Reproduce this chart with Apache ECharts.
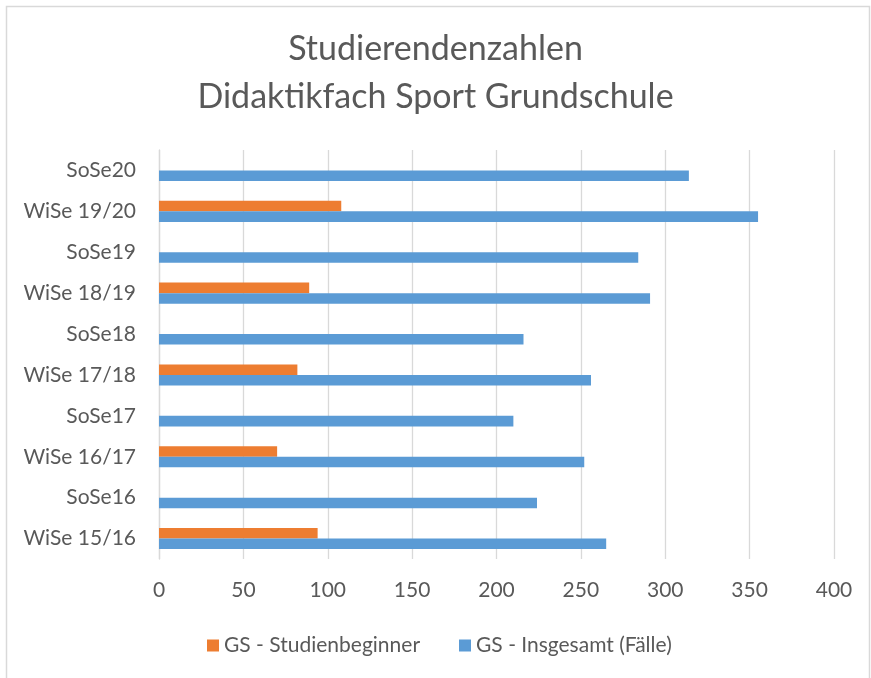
<!DOCTYPE html>
<html>
<head>
<meta charset="utf-8">
<script src="https://cdn.jsdelivr.net/npm/echarts@6/dist/echarts.min.js"></script>
<style>
html,body{margin:0;padding:0;background:#fff;}
#chart{width:871px;height:678px;}
</style>
</head>
<body>
<div id="chart"></div>
<script>
const titleText = 'Studierendenzahlen\nDidaktikfach Sport Grundschule';
const categories = ['WiSe 15/16','SoSe16','WiSe 16/17','SoSe17','WiSe 17/18','SoSe18','WiSe 18/19','SoSe19','WiSe 19/20','SoSe20'];
const seriesNames = ['GS - Studienbeginner','GS - Insgesamt (Fälle)'];
const beginner = [94, null, 70, null, 82, null, 89, null, 108, null];
const insgesamt = [265, 224, 252, 210, 256, 216, 291, 284, 355, 314];
const xMin = 0, xMax = 400, xStep = 50;

const FONT = 'Lato';
const TXT = '#595959';
const chart = echarts.init(document.getElementById('chart'), null, {renderer:'canvas'});
chart.setOption({
  animation: false,
  backgroundColor: '#fff',
  textStyle: {fontFamily: FONT},
  graphic: [{
    type: 'rect', silent: true, z: -10,
    shape: {x: 6.5, y: 6.5, width: 863, height: 700},
    style: {fill: 'none', stroke: '#D9D9D9', lineWidth: 1.5}
  }],
  title: {
    text: titleText,
    left: 'center',
    top: 20,
    textStyle: {fontFamily: FONT, fontSize: 34, fontWeight: 'normal', color: TXT, lineHeight: 48}
  },
  legend: {
    left: 202,
    top: 630,
    itemWidth: 12,
    itemHeight: 12,
    itemGap: 39,
    icon: 'rect',
    data: seriesNames,
    textStyle: {fontFamily: FONT, fontSize: 21, color: TXT}
  },
  grid: {left: 159, right: 37, top: 150, bottom: 119, containLabel: false},
  xAxis: {
    type: 'value', min: xMin, max: xMax, interval: xStep,
    axisLine: {show: false}, axisTick: {show: false},
    axisLabel: {fontFamily: FONT, fontSize: 21, color: TXT, margin: 21},
    splitLine: {show: true, lineStyle: {color: '#D9D9D9', width: 1.3}}
  },
  yAxis: {
    type: 'category', data: categories,
    axisLine: {show: true, lineStyle: {color: '#D9D9D9', width: 1.3}},
    axisTick: {show: false},
    axisLabel: {fontFamily: FONT, fontSize: 21, color: TXT, margin: 23}
  },
  series: [
    {name: seriesNames[0], type: 'bar', data: beginner, barGap: '0%', barCategoryGap: '48.5%',
     itemStyle: {color: '#ED7D31'}},
    {name: seriesNames[1], type: 'bar', data: insgesamt, barGap: '0%', barCategoryGap: '48.5%',
     itemStyle: {color: '#5B9BD5'}}
  ]
});
</script>
</body>
</html>
